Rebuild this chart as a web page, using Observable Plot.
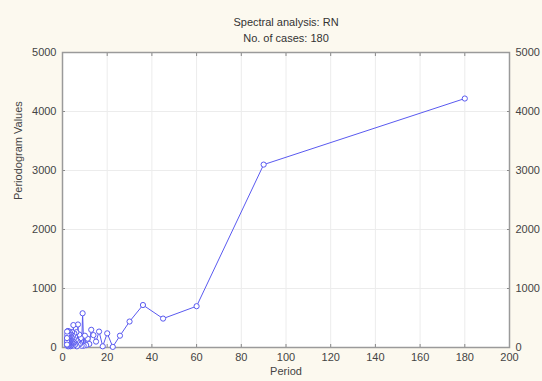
<!DOCTYPE html>
<html>
<head>
<meta charset="utf-8">
<script src="https://cdn.jsdelivr.net/npm/d3@7"></script>
<script src="https://cdn.jsdelivr.net/npm/@observablehq/plot@0.6"></script>
<style>
  html, body { margin: 0; padding: 0; background: #fcf9ef; }
  #wrap { width: 542px; height: 381px; position: relative; background: #fcf9ef; font-family: "Liberation Sans", Arial, sans-serif; overflow: hidden; }
  #titles { height: 44px; text-align: center; color: #333; font-size: 11px; padding-left: 30px; box-sizing: border-box; }
  #titles div { line-height: 16px; }
  #titles .t1 { padding-top: 14px; }
  svg { display: block; }
</style>
</head>
<body>
<div id="wrap">
  <div id="titles"><div class="t1">Spectral analysis: RN</div><div>No. of cases: 180</div></div>
  <div id="chart"></div>
</div>
<script>
const title = "Spectral analysis: RN";
const subtitle = "No. of cases: 180";
const xLabel = "Period";
const yLabel = "Periodogram Values";
const xTicks = [0, 20, 40, 60, 80, 100, 120, 140, 160, 180, 200];
const yTicks = [0, 1000, 2000, 3000, 4000, 5000];

const periods = [180, 90, 60, 45, 36, 30, 25.71, 22.5, 20, 18, 16.36, 15, 13.85, 12.86, 12, 11.25, 10.59, 10, 9.47, 9,
  8.57, 8.18, 7.83, 7.5, 7.2, 6.92, 6.67, 6.43, 6.21, 6, 5.81, 5.63, 5.45, 5.29, 5.14, 5, 4.86, 4.74, 4.62, 4.5,
  4.39, 4.29, 4.19, 4.09, 4, 3.91, 3.83, 3.75, 3.67, 3.6, 3.53, 3.46, 3.4, 3.33, 3.27, 3.21, 3.16, 3.1, 3.05, 3,
  2.95, 2.9, 2.86, 2.81, 2.77, 2.73, 2.69, 2.65, 2.61, 2.57, 2.54, 2.5, 2.47, 2.43, 2.4, 2.37, 2.34, 2.31, 2.28, 2.25,
  2.22, 2.2, 2.17, 2.14, 2.12, 2.09, 2.07, 2.05, 2.02, 2];

const values = [4220, 3100, 700, 490, 720, 440, 200, 10, 240, 20, 270, 100, 210, 300, 60, 150, 40, 200, 30, 580,
  30, 160, 60, 220, 50, 390, 110, 20, 260, 130, 60, 180, 40, 240, 90, 150, 380, 70, 200, 30,
  120, 260, 50, 170, 90, 220, 40, 130, 60, 190, 20, 110, 240, 70, 150, 30, 180, 270, 90, 40,
  140, 60, 200, 110, 30, 160, 80, 230, 50, 120, 20, 170, 90, 60, 280, 40, 130, 70, 190, 100,
  30, 150, 60, 220, 80, 40, 270, 110, 50, 160];

const data = periods.map((p, i) => ({period: p, value: values[i]}));
const blue = "#5a5af0";
const axisColor = "#444";
const fmt = d => String(d);

const chart = Plot.plot({
  width: 542,
  height: 337,
  marginTop: 8,
  marginBottom: 34,
  marginLeft: 62,
  marginRight: 33,
  style: {background: "transparent", fontFamily: "Liberation Sans, Arial, sans-serif", fontSize: "11px", color: axisColor},
  x: {domain: [0, 200]},
  y: {domain: [0, 5000]},
  marks: [
    Plot.frame({fill: "white", stroke: "none"}),
    Plot.gridX(xTicks, {stroke: "#ececec", strokeOpacity: 1}),
    Plot.gridY(yTicks, {stroke: "#ececec", strokeOpacity: 1}),
    Plot.axisX(xTicks, {anchor: "bottom", tickSize: 0, tickPadding: 6, tickFormat: fmt, label: null, fill: axisColor}),
    Plot.axisX(xTicks, {anchor: "bottom", tickSize: -3, tickFormat: () => "", label: null, stroke: "#888"}),
    Plot.axisX(xTicks, {anchor: "top", tickSize: -3, tickFormat: () => "", label: null, stroke: "#888"}),
    Plot.axisY(yTicks, {anchor: "left", tickSize: 0, tickPadding: 6, tickFormat: fmt, label: null, fill: axisColor}),
    Plot.axisY(yTicks, {anchor: "right", tickSize: 0, tickPadding: 6, tickFormat: fmt, label: null, fill: axisColor}),
    Plot.axisY(yTicks, {anchor: "left", tickSize: -3, tickFormat: () => "", label: null, stroke: "#888"}),
    Plot.axisY(yTicks, {anchor: "right", tickSize: -3, tickFormat: () => "", label: null, stroke: "#888"}),
    Plot.frame({stroke: "#9a9a9a", strokeWidth: 1.5}),
    Plot.line(data, {x: "period", y: "value", stroke: blue, strokeWidth: 1}),
    Plot.dot(data, {x: "period", y: "value", r: 2.6, fill: "white", stroke: blue, strokeWidth: 1}),
    Plot.text([xLabel], {frameAnchor: "bottom", dy: 27, text: d => d, fill: axisColor, fontSize: 11}),
    Plot.text([yLabel], {frameAnchor: "left", dx: -44, rotate: -90, text: d => d, fill: axisColor, fontSize: 11})
  ]
});
document.getElementById("chart").appendChild(chart);
</script>
</body>
</html>
